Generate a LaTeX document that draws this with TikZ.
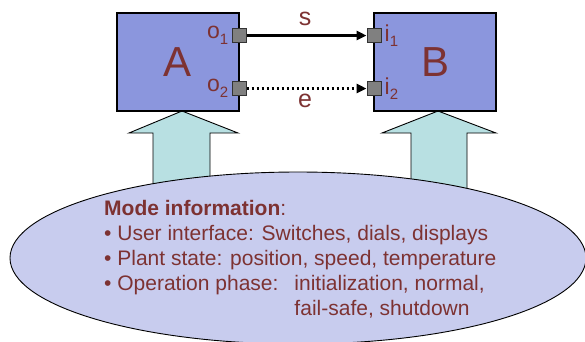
\documentclass[tikz,border=0pt]{standalone}
\usepackage{fontspec}
\setmainfont{Liberation Sans}
\usetikzlibrary{arrows.meta}
\definecolor{boxblue}{RGB}{139,150,221}
\definecolor{maroon}{RGB}{125,50,50}
\definecolor{arrowcyan}{RGB}{184,224,226}
\definecolor{ellfill}{RGB}{200,204,238}
\definecolor{portgray}{RGB}{128,128,128}
\tikzset{
  blockbox/.style={draw=black, line width=2pt, fill=boxblue, minimum width=122pt, minimum height=98pt, inner sep=0pt, text=maroon, font=\fontsize{42}{42}\selectfont},
  port/.style={draw=black!80, line width=1pt, fill=portgray, minimum size=14pt, inner sep=0pt},
  portlabel/.style={text=maroon, font=\fontsize{23}{23}\selectfont, inner sep=3pt},
  siglabel/.style={text=maroon, font=\fontsize{25}{25}\selectfont, inner sep=0pt},
  bigarrow/.style={draw=black, line width=0.9pt, fill=arrowcyan},
  infotext/.style={text=maroon, font=\fontsize{21}{25}\selectfont, anchor=base west, inner sep=0pt},
}
\newcommand{\sbs}[1]{\raisebox{-0.45ex}{\fontsize{15}{15}\selectfont #1}}
\begin{document}
\begin{tikzpicture}[x=1pt,y=-1pt]
\useasboundingbox (0,0) rectangle (585,341);
\begin{scope}
\clip (0,0) rectangle (585,341);
% block arrows
\draw[bigarrow] (182,111) -- (238,133) -- (210,133) -- (210,200) -- (153,200) -- (153,133) -- (129,133) -- cycle;
\draw[bigarrow] (438,111) -- (496,133) -- (467,133) -- (467,200) -- (411,200) -- (411,133) -- (382,133) -- cycle;
% ellipse
\draw[line width=0.9pt, fill=ellfill] (298,258) ellipse [x radius=288, y radius=86];
\end{scope}
% boxes
\node[blockbox] (A) at (178,62) {A};
\node[blockbox] (B) at (435,62) {B};
% ports
\node[port] (o1) at (239,35.5) {};
\node[port] (o2) at (239,88.5) {};
\node[port] (i1) at (374,35.5) {};
\node[port] (i2) at (374,88.5) {};
\node[portlabel, anchor=east] at (o1.west) {o\sbs{1}};
\node[portlabel, anchor=east] at (o2.west) {o\sbs{2}};
\node[portlabel, anchor=west] at (i1.east) {i\sbs{1}};
\node[portlabel, anchor=west] at (i2.east) {i\sbs{2}};
% connectors
\draw[line width=2.5pt, -{Triangle[length=10pt,width=9pt]}] (o1.east) -- (i1.west);
\draw[line width=2.5pt, dash pattern=on 2.5pt off 2.5pt, -{Triangle[length=10pt,width=9pt]}] (o2.east) -- (i2.west);
\node[siglabel] (s) at (305,19) {s};
\node[siglabel] (e) at (305,101) {e};
% text
\node[infotext] (t1) at (104,215) {\textbf{Mode information}:};
\node[infotext] (t2) at (104,240) {• User interface: Switches, dials, displays};
\node[infotext] (t3) at (104,265) {• Plant state: position, speed, temperature};
\node[infotext] (t4) at (104,290) {• Operation phase:\hspace{16pt}initialization, normal,};
\node[infotext] (t5) at (104,315) {\phantom{• Operation phase:}\hspace{16pt}fail-safe, shutdown};
\end{tikzpicture}
\end{document}
